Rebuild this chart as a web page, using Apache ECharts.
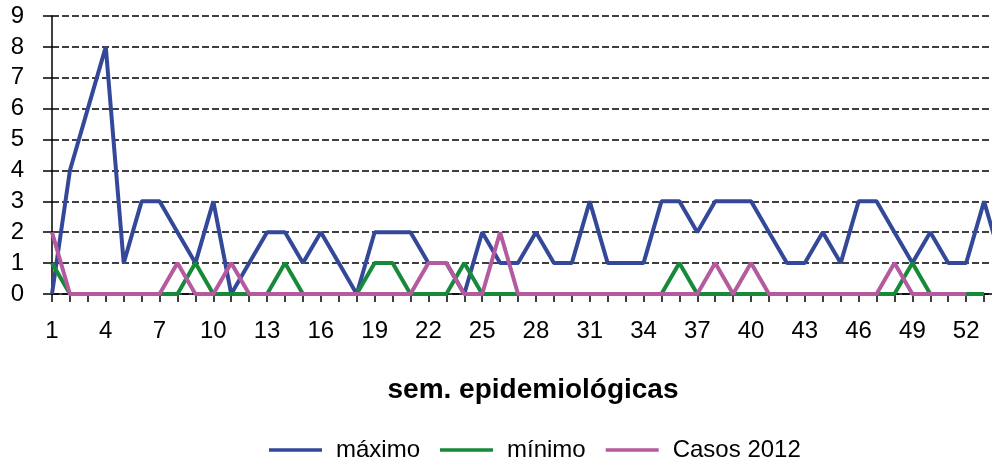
<!DOCTYPE html>
<html>
<head>
<meta charset="utf-8">
<script src="https://cdn.jsdelivr.net/npm/echarts@6/dist/echarts.min.js"></script>
<style>
html,body{margin:0;padding:0;background:#fff;}
#chart{width:992px;height:461px;}
</style>
</head>
<body>
<div id="chart"></div>
<script>
// weeks 1..54 (the reference image is cropped just after week 53)
var weeks = [];
for (var w = 1; w <= 54; w++) weeks.push(String(w));

var maximo = [0,4,6,8,1,3,3,2,1,3,0,1,2,2,1,2,1,0,2,2,2,1,1,0,2,1,1,2,1,1,3,1,1,1,3,3,2,3,3,3,2,1,1,2,1,3,3,2,1,2,1,1,3,1];
var minimo = [1,0,0,0,0,0,0,0,1,0,0,0,0,1,0,0,0,0,1,1,0,0,0,1,0,0,0,0,0,0,0,0,0,0,0,1,0,0,0,0,0,0,0,0,0,0,0,0,1,0,0,0,0];
var casos2012 = [2,0,0,0,0,0,0,1,0,0,1,0,0,0,0,0,0,0,0,0,0,1,1,0,0,2,0,0,0,0,0,0,0,0,0,0,0,1,0,1,0,0,0,0,0,0,0,1,0,0,0,0];

var seriesNames = ['máximo', 'mínimo', 'Casos 2012'];
var xAxisTitle = 'sem. epidemiológicas';

var FONT = '"Liberation Sans", Arial, sans-serif';
var chart = echarts.init(document.getElementById('chart'));
chart.setOption({
  animation: false,
  backgroundColor: '#ffffff',
  grid: {left: 52, width: 950, top: 16, height: 278, containLabel: false, outerBoundsMode: 'none'},
  xAxis: {
    type: 'category',
    data: weeks,
    boundaryGap: false,
    name: xAxisTitle,
    nameLocation: 'middle',
    nameGap: 82,
    nameMoveOverlap: false,
    nameTextStyle: {fontFamily: FONT, fontSize: 28, fontWeight: 'bold', color: '#000', padding: [0, 0, 0, 12]},
    axisLine: {lineStyle: {color: '#000', width: 1.5}},
    axisTick: {show: true, interval: 0, length: 8, lineStyle: {color: '#000', width: 1.5}},
    axisLabel: {interval: 2, margin: 25, fontFamily: FONT, fontSize: 24, color: '#000'},
    splitLine: {show: false}
  },
  yAxis: {
    type: 'value',
    min: 0, max: 9, interval: 1,
    axisLine: {show: true, lineStyle: {color: '#000', width: 1.5}},
    axisTick: {show: true, length: 9, lineStyle: {color: '#000', width: 1.5}},
    axisLabel: {margin: 28, fontFamily: FONT, fontSize: 24, color: '#000'},
    splitLine: {show: true, lineStyle: {color: '#000', width: 1.5, type: [7, 3]}}
  },
  legend: {
    data: seriesNames,
    left: 264,
    top: 433,
    icon: 'rect',
    itemWidth: 53,
    itemHeight: 3.5,
    itemGap: 20,
    textStyle: {fontFamily: FONT, fontSize: 24, color: '#000', padding: [0, 0, 0, 9]}
  },
  series: [
    {name: seriesNames[0], type: 'line', data: maximo, symbol: 'none', color: '#34489a', lineStyle: {width: 4, color: '#34489a'}},
    {name: seriesNames[1], type: 'line', data: minimo, symbol: 'none', color: '#178a3a', lineStyle: {width: 4, color: '#178a3a'}},
    {name: seriesNames[2], type: 'line', data: casos2012, symbol: 'none', color: '#b55a9f', lineStyle: {width: 4, color: '#b55a9f'}}
  ]
});
</script>
</body>
</html>
